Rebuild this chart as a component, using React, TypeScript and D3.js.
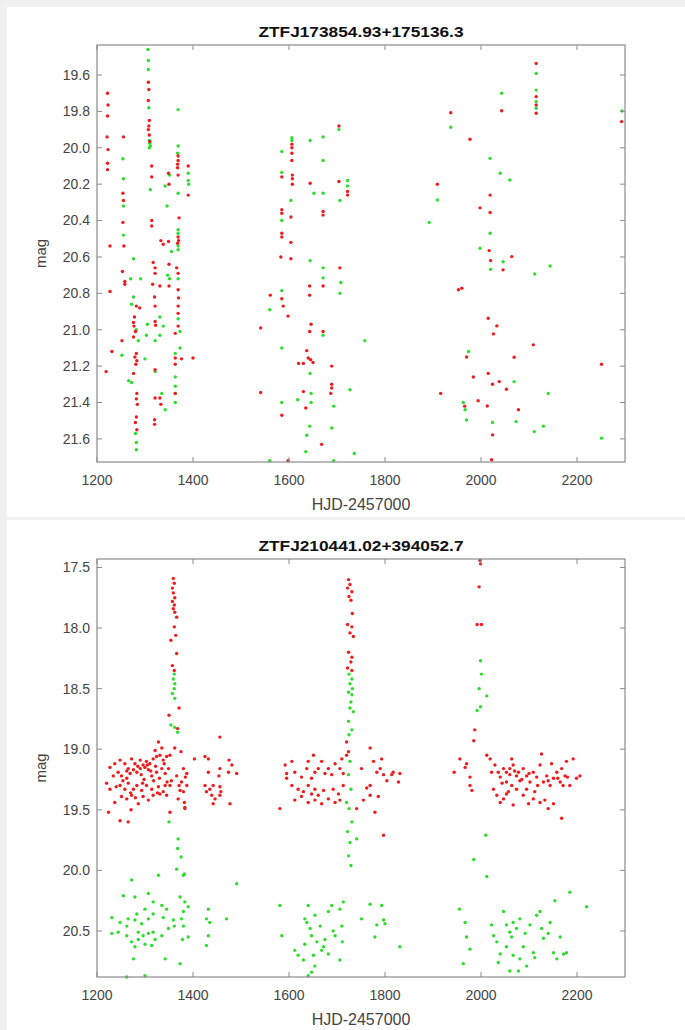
import React from "react";
import * as d3 from "d3";

type Pt = [number, number];

// axis ticks and titles
const xTicks = [1200, 1400, 1600, 1800, 2000, 2200];
const topYTicks = [19.6, 19.8, 20.0, 20.2, 20.4, 20.6, 20.8, 21.0, 21.2, 21.4, 21.6];
const bottomYTicks = [17.5, 18.0, 18.5, 19.0, 19.5, 20.0, 20.5];
const topTitle = "ZTFJ173854.93+175136.3";
const bottomTitle = "ZTFJ210441.02+394052.7";
const xLabel = "HJD-2457000";
const yLabel = "mag";

// ZTFJ173854.93+175136.3 : [HJD-2457000, mag]
const topG: Pt[] = [
  [1254, 20.06], [1255, 20.17], [1255, 20.32], [1255, 20.48], [1276, 20.61], [1252, 21.14],
  [1276, 20.82], [1272, 20.86], [1282, 21.0], [1286, 21.06], [1300, 21.16], [1266, 21.28],
  [1272, 21.29], [1280, 21.57], [1282, 21.62], [1282, 21.66], [1270, 20.72],
  [1306, 19.46], [1307, 19.52], [1307, 19.57], [1308, 19.78], [1309, 19.96], [1310, 19.975],
  [1311, 19.99], [1309, 20.0], [1311, 20.23], [1305, 20.97], [1321, 21.06], [1321, 21.23],
  [1355, 20.57], [1347, 20.7], [1351, 20.72], [1291, 20.72], [1331, 20.93], [1338, 20.98],
  [1303, 21.03], [1331, 21.03], [1335, 21.35], [1342, 21.44], [1351, 20.15], [1346, 20.32], [1342, 20.21],
  [1369, 19.79], [1369, 19.99], [1368, 20.03], [1369, 20.25], [1369, 20.45], [1369, 20.47],
  [1369, 20.54], [1369, 20.56], [1369, 20.72], [1369, 20.94], [1373, 21.01], [1373, 21.1],
  [1363, 21.13], [1363, 21.26], [1363, 21.31], [1363, 21.35], [1363, 21.4],
  [1390, 20.14], [1390, 20.18], [1391, 20.2],
  [1704, 19.9], [1606, 19.945], [1606, 19.96], [1644, 19.96], [1671, 19.94], [1585, 20.02],
  [1671, 20.07], [1585, 20.135], [1652, 20.25], [1671, 20.25], [1722, 20.18], [1722, 20.21],
  [1706, 20.29], [1604, 20.29], [1585, 20.4], [1644, 20.62], [1671, 20.66], [1671, 20.715],
  [1708, 20.74], [1706, 20.8], [1585, 20.785], [1560, 20.89], [1671, 21.03], [1758, 21.06],
  [1585, 21.1], [1644, 21.24], [1727, 21.33], [1646, 21.35], [1618, 21.385], [1585, 21.4],
  [1646, 21.4], [1693, 21.42], [1643, 21.53], [1689, 21.54], [1637, 21.58], [1635, 21.67],
  [1736, 21.68], [1560, 21.72], [1693, 21.72],
  [2115, 19.591], [2115, 19.683], [2115, 19.746], [2115, 19.783], [2043, 19.7], [1937, 19.887],
  [2294, 19.798], [2019, 20.058], [2040, 20.14], [2060, 20.177], [1909, 20.287], [1892, 20.41],
  [2019, 20.47], [1998, 20.552], [2046, 20.626], [2020, 20.668], [2144, 20.65], [2112, 20.694],
  [1974, 21.12], [2069, 21.285], [2140, 21.35], [1963, 21.4], [1967, 21.44], [1970, 21.496],
  [2024, 21.51], [2073, 21.505], [2130, 21.53], [2111, 21.56], [2251, 21.596],
];

const topR: Pt[] = [
  [1222, 19.7], [1223, 19.765], [1222, 19.825], [1221, 19.94], [1223, 20.01], [1222, 20.085],
  [1222, 20.12], [1227, 20.54], [1227, 20.79], [1231, 21.12], [1219, 21.23],
  [1255, 19.94], [1254, 20.25], [1255, 20.29], [1254, 20.41], [1256, 20.54], [1253, 20.68],
  [1258, 20.735], [1258, 20.75], [1252, 21.06],
  [1282, 20.87], [1278, 20.93], [1276, 20.96], [1277, 20.98], [1280, 21.01], [1276, 21.04],
  [1282, 21.13], [1279, 21.15], [1283, 21.17], [1281, 21.19], [1276, 21.24], [1283, 21.35],
  [1282, 21.38], [1284, 21.41], [1282, 21.48], [1280, 21.51], [1283, 21.55], [1289, 20.88],
  [1307, 19.64], [1308, 19.68], [1307, 19.74], [1309, 19.85], [1308, 19.88], [1307, 19.9],
  [1309, 19.93], [1310, 19.965], [1314, 20.1], [1314, 20.16], [1314, 20.4], [1314, 20.43],
  [1317, 20.63], [1321, 20.66], [1321, 20.69], [1316, 20.75], [1320, 20.82], [1321, 20.87],
  [1321, 20.955], [1322, 20.975], [1321, 21.22], [1321, 21.375], [1320, 21.495],
  [1333, 20.51], [1338, 20.53], [1349, 20.515], [1350, 20.64], [1331, 20.76], [1350, 20.76],
  [1331, 21.375], [1333, 21.41], [1320, 21.52], [1349, 20.14], [1350, 20.2],
  [1369, 20.045], [1369, 20.07], [1368, 20.09], [1368, 20.11], [1369, 20.15], [1371, 20.385],
  [1369, 20.49], [1370, 20.51], [1368, 20.525], [1366, 20.66], [1369, 20.69], [1369, 20.78],
  [1370, 20.825], [1369, 20.87], [1369, 20.91], [1369, 20.98], [1363, 21.02], [1363, 21.155],
  [1376, 21.16], [1363, 21.19], [1363, 21.35], [1390, 20.1], [1390, 20.26], [1400, 21.155],
  [1704, 19.88], [1606, 19.98], [1606, 20.0], [1606, 20.03], [1606, 20.07], [1585, 20.16],
  [1607, 20.15], [1607, 20.17], [1607, 20.2], [1644, 20.195], [1704, 20.185], [1722, 20.24],
  [1722, 20.26], [1585, 20.34], [1585, 20.36], [1604, 20.38], [1671, 20.35], [1671, 20.37],
  [1585, 20.47], [1585, 20.49], [1604, 20.52], [1583, 20.6], [1604, 20.61], [1706, 20.66],
  [1643, 20.76], [1671, 20.76], [1561, 20.81], [1585, 20.83], [1643, 20.81], [1588, 20.87],
  [1598, 20.925], [1541, 20.99], [1646, 20.97], [1643, 21.01], [1671, 21.01], [1637, 21.115],
  [1640, 21.155], [1645, 21.165], [1650, 21.18], [1620, 21.185], [1630, 21.185], [1689, 21.2],
  [1689, 21.3], [1689, 21.32], [1541, 21.345], [1630, 21.34], [1687, 21.35], [1635, 21.43],
  [1585, 21.47], [1668, 21.63], [1598, 21.72],
  [2115, 19.536], [2115, 19.719], [2115, 19.765], [2115, 19.81], [2043, 19.796], [1937, 19.807],
  [2293, 19.856], [1977, 19.953], [1909, 20.2], [2019, 20.26], [1998, 20.33], [2019, 20.356],
  [2017, 20.565], [2064, 20.598], [2020, 20.62], [2046, 20.671], [1953, 20.78], [1960, 20.772],
  [2015, 20.937], [2033, 20.979], [2026, 21.023], [2109, 21.083], [1970, 21.15], [2069, 21.151],
  [2251, 21.19], [2015, 21.24], [1984, 21.26], [2038, 21.285], [2024, 21.3], [2053, 21.327],
  [1916, 21.35], [1994, 21.39], [2013, 21.419], [2078, 21.44], [2024, 21.578], [2022, 21.715],
  [1966, 21.42],
];

// ZTFJ210441.02+394052.7
const bottomG: Pt[] = [
  [1361, 18.38], [1359, 18.42], [1362, 18.46], [1361, 18.5], [1357, 18.54], [1362, 18.58],
  [1354, 18.8], [1362, 18.82], [1368, 18.86], [1369, 19.74], [1368, 19.82], [1375, 19.89],
  [1380, 20.04], [1350, 19.6],
  [1328, 20.04], [1272, 20.08], [1366, 19.99], [1382, 20.03], [1491, 20.11], [1255, 20.21],
  [1279, 20.22], [1307, 20.19], [1317, 20.26], [1335, 20.29], [1345, 20.32], [1373, 20.22],
  [1383, 20.26], [1380, 20.34], [1390, 20.3], [1300, 20.32], [1283, 20.36], [1265, 20.4],
  [1231, 20.39], [1248, 20.43], [1262, 20.46], [1279, 20.41], [1293, 20.44], [1307, 20.4],
  [1317, 20.36], [1338, 20.39], [1359, 20.41], [1376, 20.4], [1380, 20.46], [1432, 20.32],
  [1428, 20.4], [1435, 20.43], [1470, 20.4], [1231, 20.52], [1244, 20.51], [1262, 20.54],
  [1286, 20.51], [1296, 20.54], [1307, 20.52], [1317, 20.51], [1321, 20.57], [1335, 20.54],
  [1286, 20.57], [1272, 20.59], [1300, 20.61], [1314, 20.62], [1279, 20.63], [1390, 20.55],
  [1432, 20.54], [1428, 20.62], [1276, 20.73], [1342, 20.73], [1373, 20.77], [1300, 20.87],
  [1262, 20.88], [1361, 20.46], [1349, 20.48], [1378, 20.57],
  [1725, 18.38], [1731, 18.42], [1727, 18.46], [1732, 18.5], [1724, 18.53], [1731, 18.55],
  [1729, 18.61], [1727, 18.66], [1734, 18.69], [1724, 18.77], [1731, 18.84], [1725, 18.88],
  [1727, 19.1], [1724, 19.21], [1729, 19.33], [1720, 19.44], [1725, 19.49], [1731, 19.6],
  [1722, 19.68], [1727, 19.77], [1724, 19.88], [1729, 19.96], [1741, 19.74],
  [1581, 20.29], [1585, 20.54], [1612, 20.66], [1619, 20.7], [1630, 20.74], [1633, 20.4],
  [1640, 20.29], [1637, 20.43], [1644, 20.48], [1647, 20.54], [1654, 20.37], [1658, 20.59],
  [1665, 20.46], [1672, 20.63], [1675, 20.57], [1682, 20.34], [1682, 20.69], [1692, 20.5],
  [1696, 20.54], [1706, 20.32], [1710, 20.46], [1713, 20.26], [1711, 20.59], [1706, 20.74],
  [1647, 20.84], [1640, 20.87], [1654, 20.79], [1668, 20.66], [1633, 20.61], [1651, 20.7],
  [1689, 20.29], [1751, 20.4], [1769, 20.28], [1779, 20.55], [1783, 20.45], [1793, 20.29],
  [1797, 20.41], [1800, 20.44], [1831, 20.63],
  [1999, 18.27], [2001, 18.38], [1996, 18.5], [2012, 18.56], [1992, 18.68], [1999, 18.65],
  [2010, 19.71], [1985, 19.91], [2012, 20.05],
  [1955, 20.32], [1967, 20.43], [1970, 20.55], [1977, 20.65], [1963, 20.77], [2022, 20.45],
  [2026, 20.54], [2033, 20.59], [2040, 20.69], [2047, 20.34], [2053, 20.45], [2060, 20.51],
  [2064, 20.55], [2067, 20.43], [2074, 20.48], [2081, 20.4], [2088, 20.63], [2092, 20.52],
  [2102, 20.45], [2109, 20.68], [2116, 20.37], [2123, 20.34], [2126, 20.48], [2130, 20.56],
  [2140, 20.52], [2144, 20.43], [2151, 20.68], [2158, 20.73], [2165, 20.55], [2172, 20.69],
  [2178, 20.68], [2154, 20.25], [2185, 20.18], [2220, 20.3], [2060, 20.83], [2078, 20.83],
  [2095, 20.79], [2112, 20.72], [2036, 20.76], [2067, 20.7], [2081, 20.73], [2053, 20.63],
];

const bottomR: Pt[] = [
  [1359, 17.59], [1361, 17.63], [1357, 17.67], [1359, 17.71], [1362, 17.75], [1357, 17.78],
  [1361, 17.81], [1359, 17.84], [1362, 17.87], [1366, 17.91], [1361, 17.99], [1364, 18.06],
  [1354, 18.1], [1366, 18.21], [1357, 18.31], [1361, 18.35], [1371, 18.66], [1350, 18.72],
  [1368, 18.83],
  [1227, 19.15], [1237, 19.12], [1248, 19.09], [1258, 19.12], [1265, 19.16], [1272, 19.08],
  [1279, 19.12], [1290, 19.09], [1296, 19.13], [1303, 19.1], [1310, 19.12], [1317, 19.08],
  [1324, 19.06], [1331, 19.05], [1338, 19.09], [1345, 19.06], [1352, 19.05], [1328, 18.94],
  [1335, 18.99], [1321, 19.01], [1362, 18.99], [1375, 19.02], [1403, 19.08], [1425, 19.06],
  [1432, 19.08], [1456, 18.9], [1475, 19.09], [1220, 19.28], [1234, 19.22], [1244, 19.19],
  [1251, 19.22], [1262, 19.24], [1269, 19.2], [1276, 19.17], [1283, 19.19], [1290, 19.16],
  [1300, 19.15], [1307, 19.17], [1314, 19.22], [1324, 19.19], [1335, 19.16], [1342, 19.2],
  [1349, 19.16], [1366, 19.22], [1380, 19.16], [1387, 19.2], [1432, 19.19], [1456, 19.16],
  [1454, 19.22], [1474, 19.19], [1491, 19.2], [1481, 19.13], [1227, 19.33], [1248, 19.3],
  [1258, 19.33], [1265, 19.28], [1276, 19.33], [1283, 19.3], [1293, 19.34], [1303, 19.3],
  [1314, 19.33], [1328, 19.31], [1338, 19.35], [1352, 19.3], [1376, 19.27], [1387, 19.3],
  [1373, 19.34], [1380, 19.35], [1425, 19.3], [1435, 19.33], [1428, 19.35], [1442, 19.3],
  [1456, 19.31], [1342, 19.3], [1237, 19.44], [1251, 19.39], [1262, 19.41], [1272, 19.38],
  [1286, 19.45], [1296, 19.39], [1307, 19.42], [1317, 19.38], [1331, 19.37], [1345, 19.38],
  [1369, 19.41], [1382, 19.44], [1383, 19.48], [1439, 19.38], [1446, 19.41], [1456, 19.38],
  [1458, 19.35], [1442, 19.45], [1477, 19.45], [1224, 19.52], [1271, 19.5], [1248, 19.59],
  [1265, 19.6], [1352, 19.52], [1383, 19.49],
  [1285, 19.14], [1292, 19.21], [1298, 19.25], [1305, 19.13], [1312, 19.18], [1318, 19.26],
  [1322, 19.14], [1330, 19.24], [1340, 19.12], [1346, 19.27], [1254, 19.26], [1262, 19.18],
  [1270, 19.36], [1295, 19.28], [1326, 19.36], [1355, 19.26], [1371, 19.3], [1384, 19.23],
  [1240, 19.31], [1280, 19.4],
  [1724, 17.6], [1727, 17.64], [1722, 17.67], [1731, 17.7], [1725, 17.74], [1729, 17.77],
  [1732, 17.88], [1722, 17.97], [1731, 17.99], [1727, 18.04], [1734, 18.07], [1724, 18.2],
  [1731, 18.24], [1729, 18.28], [1722, 18.33], [1731, 18.35], [1720, 18.94], [1724, 19.02],
  [1720, 19.05],
  [1592, 19.13], [1606, 19.1], [1612, 19.19], [1626, 19.23], [1637, 19.16], [1640, 19.1],
  [1651, 19.05], [1654, 19.19], [1647, 19.24], [1661, 19.16], [1668, 19.1], [1675, 19.2],
  [1682, 19.16], [1689, 19.21], [1696, 19.12], [1706, 19.16], [1710, 19.08], [1713, 19.2],
  [1595, 19.24], [1606, 19.3], [1619, 19.33], [1630, 19.35], [1640, 19.3], [1647, 19.37],
  [1654, 19.33], [1661, 19.38], [1672, 19.34], [1682, 19.41], [1692, 19.33], [1703, 19.37],
  [1713, 19.3], [1612, 19.42], [1626, 19.39], [1640, 19.44], [1654, 19.42], [1668, 19.45],
  [1696, 19.44], [1706, 19.42], [1581, 19.49], [1741, 19.49], [1595, 19.2],
  [1751, 19.16], [1762, 19.32], [1769, 19.3], [1776, 19.1], [1783, 19.19], [1790, 19.16],
  [1793, 19.08], [1797, 19.21], [1804, 19.26], [1814, 19.21], [1817, 19.19], [1828, 19.27],
  [1831, 19.2], [1769, 19.38], [1786, 19.39], [1755, 19.42], [1779, 19.52], [1797, 19.71],
  [1769, 18.99],
  [1998, 17.44], [1999, 17.47], [1996, 17.66], [1992, 17.97], [2001, 17.97], [1987, 18.84],
  [1985, 18.93],
  [1944, 19.19], [1956, 19.08], [1970, 19.12], [1967, 19.15], [1977, 19.23], [1977, 19.3],
  [1981, 19.34], [2012, 19.05], [2019, 19.08], [2029, 19.13], [2036, 19.19], [2040, 19.23],
  [2047, 19.16], [2053, 19.19], [2060, 19.16], [2064, 19.08], [2067, 19.13], [2074, 19.22],
  [2078, 19.19], [2081, 19.26], [2088, 19.16], [2095, 19.22], [2102, 19.27], [2109, 19.19],
  [2116, 19.23], [2123, 19.13], [2126, 19.04], [2130, 19.27], [2137, 19.22], [2147, 19.12],
  [2151, 19.24], [2165, 19.27], [2168, 19.16], [2175, 19.22], [2178, 19.1], [2185, 19.3],
  [2192, 19.08], [2199, 19.24], [2206, 19.22], [2026, 19.33], [2033, 19.38], [2040, 19.44],
  [2047, 19.41], [2053, 19.37], [2067, 19.46], [2074, 19.33], [2088, 19.38], [2099, 19.45],
  [2109, 19.41], [2123, 19.44], [2133, 19.42], [2140, 19.49], [2151, 19.45], [2168, 19.57],
  [2053, 19.27], [2064, 19.3], [2022, 19.19], [2095, 19.33], [2112, 19.35], [2144, 19.3],
  [2171, 19.3], [2158, 19.19], [2060, 19.21], [2070, 19.18], [2085, 19.25], [2100, 19.2],
  [2118, 19.3], [2140, 19.26], [2160, 19.24], [2180, 19.23], [2044, 19.28], [2057, 19.35],
];

const FONT = "'Liberation Sans', Arial, Helvetica, sans-serif";
const LEFT = 97;
const RIGHT = 625;

function Panel(props: {
  top: number;
  bottom: number;
  title: string;
  yDomain: [number, number];
  yTicks: number[];
  yFmt: (v: number) => string;
  gPts: Pt[];
  rPts: Pt[];
}) {
  const { top, bottom, title, yDomain, yTicks, yFmt, gPts, rPts } = props;
  const x = d3.scaleLinear().domain([1200, 2300]).range([LEFT, RIGHT]);
  const y = d3.scaleLinear().domain(yDomain).range([top, bottom]);
  const tl = 5;
  const frame = "#8a8a8a";
  return (
    <g>
      <text x={(LEFT + RIGHT) / 2} y={top - 8} textAnchor="middle" fontFamily={FONT}
        fontWeight="bold" fontSize={15} fill="#111" textLength={205}
        lengthAdjust="spacingAndGlyphs">{title}</text>
      <rect x={LEFT} y={top} width={RIGHT - LEFT} height={bottom - top} fill="#fff" />
      {gPts.map((d, i) => (
        <circle key={"g" + i} cx={x(d[0])} cy={y(d[1])} r={1.7} fill="#2fdc2f" />
      ))}
      {rPts.map((d, i) => (
        <circle key={"r" + i} cx={x(d[0])} cy={y(d[1])} r={1.7} fill="#ee1c1c" />
      ))}
      <rect x={LEFT} y={top} width={RIGHT - LEFT} height={bottom - top} fill="none"
        stroke={frame} strokeWidth={1.2} />
      {xTicks.map((t) => (
        <g key={"x" + t}>
          <line x1={x(t)} x2={x(t)} y1={bottom} y2={bottom - tl} stroke={frame} />
          <line x1={x(t)} x2={x(t)} y1={top} y2={top + tl} stroke={frame} />
          <text x={x(t)} y={bottom + 23} textAnchor="middle" fontFamily={FONT}
            fontSize={14} fill="#444">{t}</text>
        </g>
      ))}
      {yTicks.map((t) => (
        <g key={"y" + t}>
          <line x1={LEFT} x2={LEFT + tl} y1={y(t)} y2={y(t)} stroke={frame} />
          <line x1={RIGHT} x2={RIGHT - tl} y1={y(t)} y2={y(t)} stroke={frame} />
          <text x={LEFT - 7} y={y(t)} dy="0.35em" textAnchor="end" fontFamily={FONT}
            fontSize={14} fill="#444">{yFmt(t)}</text>
        </g>
      ))}
      <text x={(LEFT + RIGHT) / 2} y={bottom + 48} textAnchor="middle" fontFamily={FONT}
        fontSize={16} fill="#444">{xLabel}</text>
      <text transform={`translate(46,${(top + bottom) / 2}) rotate(-90)`} textAnchor="middle"
        fontFamily={FONT} fontSize={15} fill="#444">{yLabel}</text>
    </g>
  );
}

export default function App() {
  const fmt1 = d3.format(".1f");
  return (
    <svg width={685} height={1030}
      style={{ position: "absolute", left: 0, top: 0, display: "block" }}>
      <rect x={0} y={0} width={685} height={1030} fill="#f0f0f0" />
      <rect x={7} y={7} width={678} height={510} fill="#fff" />
      <rect x={7} y={520} width={678} height={510} fill="#fff" />
      <Panel top={45} bottom={462} title={topTitle} yDomain={[19.435, 21.727]}
        yTicks={topYTicks} yFmt={fmt1} gPts={topG} rPts={topR} />
      <Panel top={559} bottom={977} title={bottomTitle} yDomain={[17.43, 20.88]}
        yTicks={bottomYTicks} yFmt={fmt1} gPts={bottomG} rPts={bottomR} />
    </svg>
  );
}
